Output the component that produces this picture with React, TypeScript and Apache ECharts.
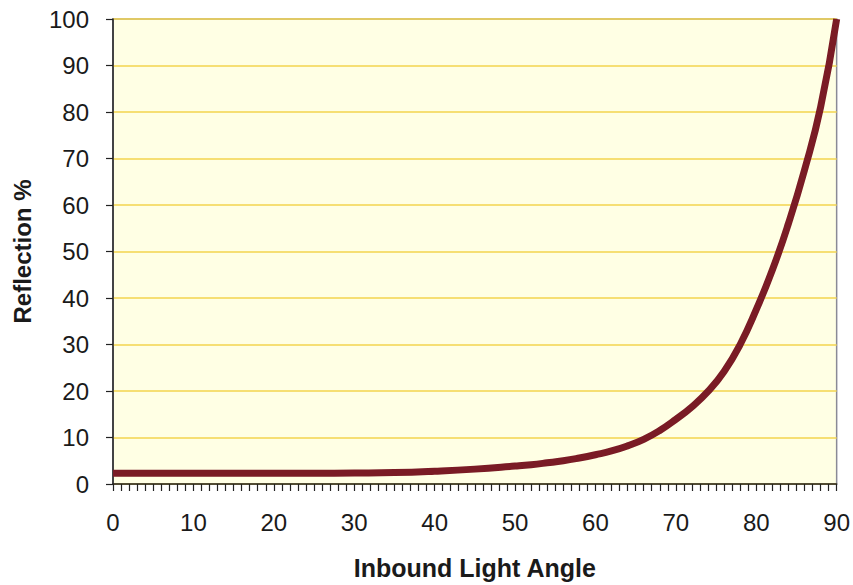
import React, { useEffect, useRef } from "react";
import * as echarts from "echarts";

const angles = [0, 5, 10, 15, 20, 25, 30, 35, 40, 45, 50, 52, 54, 56, 58, 60, 62, 64, 66, 68, 70, 72, 74, 76, 78, 80, 82, 84, 86, 88, 90];
const reflection = [2.3, 2.3, 2.3, 2.3, 2.3, 2.3, 2.35, 2.45, 2.75, 3.2, 3.85, 4.15, 4.55, 5.0, 5.6, 6.3, 7.1, 8.2, 9.6, 11.5, 13.9, 16.6, 19.9, 24.2, 30, 37.5, 46, 56, 67.5, 81, 100];
const xTitle = "Inbound Light Angle";
const yTitle = "Reflection %";

export default function App() {
  const ref = useRef<HTMLDivElement>(null);
  useEffect(() => {
    if (!ref.current) return;
    const chart = echarts.init(ref.current, undefined, { renderer: "svg" });
    const font = "Liberation Sans, Arial, sans-serif";
    chart.setOption({
      animation: false,
      backgroundColor: "#ffffff",
      grid: {
        left: 113,
        right: 14,
        top: 19,
        bottom: 98,
        show: true,
        backgroundColor: "#FFFFE4",
        borderColor: "#8a8a96",
        borderWidth: 1.5,
      },
      xAxis: {
        type: "value",
        min: 0,
        max: 90,
        interval: 10,
        name: xTitle,
        nameLocation: "middle",
        nameGap: 71,
        nameTextStyle: { fontFamily: font, fontSize: 25, fontWeight: "bold", color: "#1a1a1a" },
        axisLine: { show: true, lineStyle: { color: "#222", width: 1.5 } },
        axisTick: { show: true, length: 7, lineStyle: { color: "#222", width: 1.2 } },
        minorTick: { show: true, splitNumber: 10, length: 7, lineStyle: { color: "#222", width: 1.2 } },
        axisLabel: { fontFamily: font, fontSize: 24, color: "#1a1a1a", margin: 26 },
        splitLine: { show: false },
      },
      yAxis: {
        type: "value",
        min: 0,
        max: 100,
        interval: 10,
        name: yTitle,
        nameLocation: "middle",
        nameGap: 79,
        nameTextStyle: { fontFamily: font, fontSize: 24, fontWeight: "bold", color: "#1a1a1a" },
        axisLine: { show: true, lineStyle: { color: "#222", width: 1.5 } },
        axisTick: { show: true, length: 7, lineStyle: { color: "#222", width: 1.2 } },
        axisLabel: { fontFamily: font, fontSize: 24, color: "#1a1a1a", margin: 24 },
        splitLine: { show: true, lineStyle: { color: "#F3D54E", width: 1.5 } },
      },
      series: [
        {
          type: "line",
          data: angles.map((a, i) => [a, reflection[i]]),
          smooth: 0.5,
          symbol: "none",
          lineStyle: { color: "#7A1B25", width: 7 },
        },
      ],
    });
    return () => chart.dispose();
  }, []);
  return <div ref={ref} style={{ position: "absolute", left: 0, top: 0, width: 853, height: 585 }} />;
}
